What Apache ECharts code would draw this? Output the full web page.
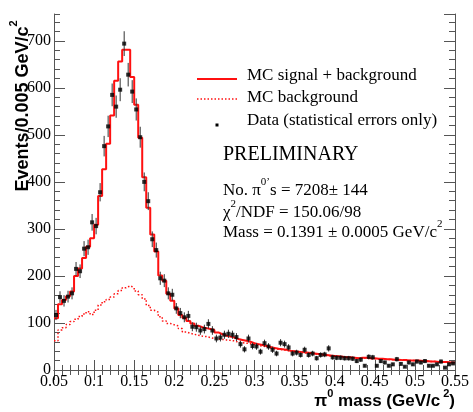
<!DOCTYPE html>
<html><head><meta charset="utf-8">
<script src="https://cdn.jsdelivr.net/npm/echarts@6/dist/echarts.min.js"></script>
<style>html,body{margin:0;padding:0;background:#fff}#c{width:473px;height:412px}</style>
</head><body><div id="c"></div>
<script>
// ---- axis definitions ----
const xMin = 0.05, xMax = 0.55, binWidth = 0.005, nBins = 100;
const yMin = 0, yMax = 757;
const xTickLabels = ['0.05','0.1','0.15','0.2','0.25','0.3','0.35','0.4','0.45','0.5','0.55'];
const yTickLabels = ['0','100','200','300','400','500','600','700'];

// ---- series values (events per bin) ----
const dataCounts = [
 117,155,147,156,163,215,210,258,261,314,
 306,378,476,518,585,560,596,694,628,592,
 554,495,400,359,278,255,195,190,163,160,
 131,121,112,115,92,91,84,87,98,84,
 67,69,75,77,75,70,55,44,67,51,
 50,39,57,50,43,35,58,55,48,35,
 37,32,43,32,35,25,32,33,46,27,
 26,26,25,25,24,19,22,9,28,27,
 9,19,16,9,12,23,13,7,16,12,
 18,16,19,9,9,12,18,5,12,14];

const mcTotal = [
 110,140,149,157,167,200,216,238,262,280,
 309,370,427,481,541,615,656,681,681,623,
 564,494,410,345,288,252,201,190,162,147,
 131,117,111,104,99,94,91,89,87,85,
 80,76,73,71,69,66,64,62,60,57,
 55,53,51,49,47,45,44,43,41,40,
 39,38,37,36,35,34,33,32,31,30,
 29,28,27,27,26,25,26,26,25,25,
 24,24,23,23,22,22,21,21,20,20,
 20,19,19,18,18,17,17,17,16,16];

const mcBackground = [
 62,85,90,97,103,108,114,119,124,118,
 127,138,145,150,155,162,169,175,179,175,
 168,160,151,137,127,123,113,104,99,96,
 94,88,81,78,76,74,72,71,69,67,
 66,65,64,63,62,59,58,57,56,54,
 52,51,49,47,45,44,43,42,40,39,
 38,37,36,35,34,33,32,31,30,29,
 28,28,27,26,26,25,25,25,24,24,
 23,23,23,22,22,21,21,20,20,20,
 19,19,18,18,18,17,17,16,16,16];

// ---- build library inputs ----
const edges = Array.from({length: nBins + 1}, (_, i) => +(xMin + binWidth * i).toFixed(4));
const centers = edges.slice(0, nBins).map(e => +(e + binWidth / 2).toFixed(5));
function stepData(vals) {
  const d = vals.map((v, i) => [edges[i], v]);
  d.push([edges[nBins], vals[nBins - 1]]);
  return d;
}
const pointData = dataCounts.map((v, i) => [centers[i], v]);
const errData = dataCounts.map((v, i) => [centers[i], v, Math.sqrt(v)]);

const serif = 'Liberation Serif';
const sans = 'Liberation Sans';
const axisCol = '#555';

function xAxisDef(pos, labels) {
  return {
    type: 'value', position: pos, min: xMin, max: xMax, interval: 0.05,
    axisLine: {show: true, lineStyle: {color: axisCol, width: 1}},
    axisTick: {show: true, inside: true, length: 10, lineStyle: {color: axisCol}},
    minorTick: {show: true, splitNumber: 5, length: 5, lineStyle: {color: axisCol}},
    splitLine: {show: false}, minorSplitLine: {show: false},
    axisLabel: labels ? {
      show: true, margin: 4, color: '#000', fontFamily: serif, fontSize: 16,
      showMinLabel: true, showMaxLabel: true,
      formatter: v => { const s = parseFloat(v.toFixed(3)).toString(); return xTickLabels.includes(s) ? s : ''; }
    } : {show: false}
  };
}
function yAxisDef(pos, interval, tickLen, labels, line) {
  return {
    type: 'value', position: pos, min: yMin, max: yMax, interval: interval,
    axisLine: {show: line, lineStyle: {color: axisCol, width: 1}},
    axisTick: {show: true, inside: true, length: tickLen, lineStyle: {color: axisCol}},
    splitLine: {show: false},
    axisLabel: labels ? {
      show: true, margin: 3, color: '#000', fontFamily: serif, fontSize: 16,
      showMinLabel: true, showMaxLabel: false,
      formatter: v => { const s = String(Math.round(v)); return yTickLabels.includes(s) ? s : ''; }
    } : {show: false}
  };
}

const chart = echarts.init(document.getElementById('c'), null, {renderer: 'canvas'});
chart.setOption({
  animation: false,
  backgroundColor: '#fff',
  grid: {left: 54, right: 18, top: 14, bottom: 42, containLabel: false, outerBoundsMode: 'none'},
  xAxis: [xAxisDef('bottom', true), xAxisDef('top', false)],
  yAxis: [
    yAxisDef('left', 100, 11, true, true),
    yAxisDef('left', 20, 6, false, false),
    yAxisDef('right', 100, 11, false, true),
    yAxisDef('right', 20, 6, false, false)
  ],
  series: [
    {type: 'line', name: 'MC background', xAxisIndex: 0, yAxisIndex: 0, data: stepData(mcBackground), step: 'end',
     showSymbol: false, lineStyle: {color: '#ff1010', width: 1.5, type: [1.5, 2]}, z: 2},
    {type: 'line', name: 'MC signal + background', xAxisIndex: 0, yAxisIndex: 0, data: stepData(mcTotal), step: 'end',
     showSymbol: false, lineStyle: {color: '#ff1010', width: 2}, z: 3},
    {type: 'custom', name: 'errors', xAxisIndex: 0, yAxisIndex: 0, data: errData, z: 4,
     renderItem: (params, api) => {
       const x = api.value(0), y = api.value(1), e = api.value(2);
       const p1 = api.coord([x, y - e]), p2 = api.coord([x, y + e]);
       return {type: 'line', shape: {x1: p1[0], y1: p1[1], x2: p2[0], y2: p2[1]},
               style: {stroke: '#333', lineWidth: 1}};
     }},
    {type: 'scatter', name: 'Data', xAxisIndex: 0, yAxisIndex: 0, data: pointData, symbol: 'rect', symbolSize: 4,
     itemStyle: {color: '#000'}, z: 5}
  ],
  graphic: [
    {type: 'text', x: 20, y: 106, rotation: Math.PI / 2,
     style: {text: '{b|Events/0.005 GeV/c}{s|2}', align: 'center', verticalAlign: 'middle',
       rich: {b: {fontFamily: sans, fontWeight: 'bold', fontSize: 18, verticalAlign: 'bottom', lineHeight: 24, fill: '#000'},
              s: {fontFamily: sans, fontWeight: 'bold', fontSize: 11, verticalAlign: 'top', lineHeight: 24, fill: '#000'}}}},
    {type: 'text', x: 455, y: 399,
     style: {text: '{b|π}{s|0}{b| mass (GeV/c}{s| 2}{b|)}', align: 'right', verticalAlign: 'middle',
       rich: {b: {fontFamily: sans, fontWeight: 'bold', fontSize: 17, verticalAlign: 'bottom', lineHeight: 22, fill: '#000'},
              s: {fontFamily: sans, fontWeight: 'bold', fontSize: 11, verticalAlign: 'top', lineHeight: 22, fill: '#000'}}}},
    // legend
    {type: 'line', shape: {x1: 197, y1: 79, x2: 237, y2: 79}, style: {stroke: '#ff1010', lineWidth: 2}},
    {type: 'text', x: 247, y: 76, style: {text: 'MC signal + background', fontFamily: serif, fontSize: 17, fill: '#000', verticalAlign: 'middle'}},
    {type: 'line', shape: {x1: 197, y1: 99, x2: 237, y2: 99}, style: {stroke: '#ff1010', lineWidth: 1.5, lineDash: [1.5, 2]}},
    {type: 'text', x: 247, y: 98, style: {text: 'MC background', fontFamily: serif, fontSize: 17, fill: '#000', verticalAlign: 'middle'}},
    {type: 'rect', shape: {x: 215.5, y: 123.5, width: 3, height: 3}, style: {fill: '#000'}},
    {type: 'text', x: 247, y: 121, style: {text: 'Data (statistical errors only)', fontFamily: serif, fontSize: 17, fill: '#000', verticalAlign: 'middle'}},
    {type: 'text', x: 223, y: 155, style: {text: 'PRELIMINARY', fontFamily: serif, fontSize: 20, fill: '#000', verticalAlign: 'middle'}},
    {type: 'text', x: 223, y: 188,
     style: {text: '{n|No. π}{s|0}{s|\u2019}{n|s = 7208± 144}', verticalAlign: 'middle',
       rich: {n: {fontFamily: serif, fontSize: 17, verticalAlign: 'bottom', lineHeight: 22, fill: '#000'},
              s: {fontFamily: serif, fontSize: 11, verticalAlign: 'top', lineHeight: 22, fill: '#000'}}}},
    {type: 'text', x: 223, y: 210,
     style: {text: '{n|χ}{s|2}{n|/NDF = 150.06/98}', verticalAlign: 'middle',
       rich: {n: {fontFamily: serif, fontSize: 17, verticalAlign: 'bottom', lineHeight: 22, fill: '#000'},
              s: {fontFamily: serif, fontSize: 11, verticalAlign: 'top', lineHeight: 22, fill: '#000'}}}},
    {type: 'text', x: 223, y: 230,
     style: {text: '{n|Mass = 0.1391 ± 0.0005 GeV/c}{s|2}', verticalAlign: 'middle',
       rich: {n: {fontFamily: serif, fontSize: 17, verticalAlign: 'bottom', lineHeight: 22, fill: '#000'},
              s: {fontFamily: serif, fontSize: 11, verticalAlign: 'top', lineHeight: 22, fill: '#000'}}}}
  ]
});
</script>
</body></html>
